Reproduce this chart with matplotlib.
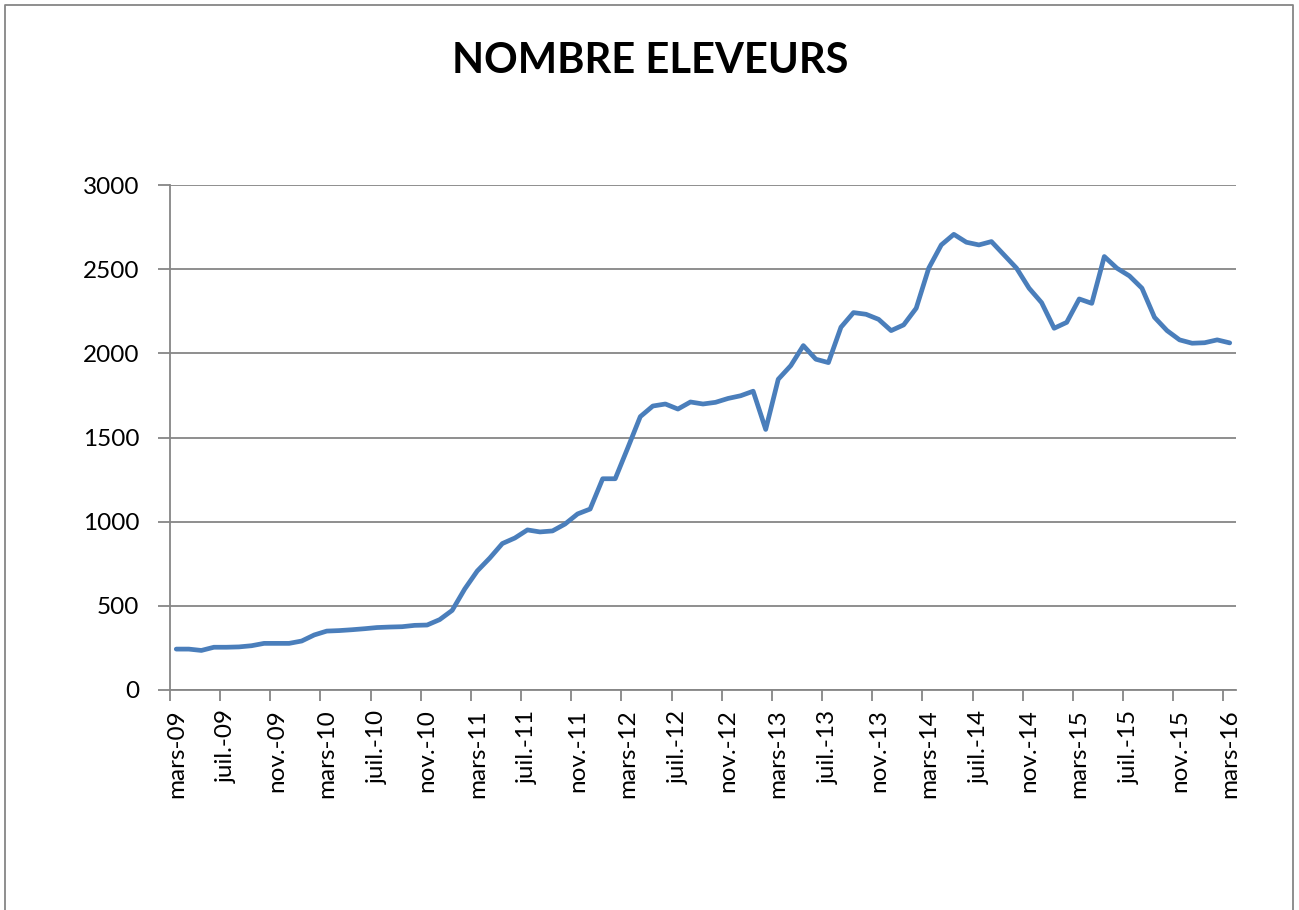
import matplotlib
matplotlib.use('Agg')
import matplotlib.pyplot as plt
import numpy as np

# monthly counts, mars-09 .. mars-16 (85 months)
months = ['janv.', 'févr.', 'mars', 'avr.', 'mai', 'juin',
          'juil.', 'août', 'sept.', 'oct.', 'nov.', 'déc.']
values = [
    243, 243, 235, 254, 254, 256, 263, 277, 277, 277,
    291, 327, 350, 353, 358, 364, 371, 374, 376, 384,
    386, 418, 473, 600, 707, 784, 870, 903, 951, 939,
    945, 986, 1046, 1075, 1255, 1255, 1438, 1624, 1687, 1699,
    1669, 1711, 1699, 1709, 1732, 1748, 1775, 1548, 1846, 1927,
    2046, 1965, 1945, 2155, 2242, 2232, 2202, 2135, 2169, 2268,
    2506, 2644, 2707, 2660, 2644, 2664, 2585, 2506, 2387, 2301,
    2149, 2184, 2323, 2297, 2575, 2506, 2460, 2387, 2214, 2135,
    2080, 2060, 2063, 2080, 2062,
]
start_year, start_month = 2009, 3

labels = []
for i in range(len(values)):
    m = (start_month - 1 + i) % 12
    y = start_year + (start_month - 1 + i) // 12
    labels.append(f"{months[m]}-{y % 100:02d}")

FONT = 'Lato'
GRID = '#868686'
LINE = '#4A7EBB'

fig = plt.figure(figsize=(12.99, 9.10), dpi=100)
ax = fig.add_axes([170 / 1299, 1 - 690 / 910, (1236 - 170) / 1299, (690 - 185) / 910])

x = np.arange(len(values))
ax.plot(x, values, color=LINE, lw=3.4, solid_joinstyle='round',
        solid_capstyle='round', zorder=3)

ax.set_xlim(-0.5, len(values) - 0.5)
ax.set_ylim(0, 3000)
ax.set_yticks(range(0, 3001, 500))
ax.yaxis.grid(True, color=GRID, lw=1.3)
ax.set_axisbelow(True)

# labels centred on categories, tick marks on category boundaries
ax.set_xticks(x[::4])
ax.set_xticklabels(labels[::4], rotation=90, fontsize=17.5, family=FONT)
ax.set_xticks(np.arange(-0.5, len(values) - 0.5, 4), minor=True)
ax.tick_params(axis='x', which='major', length=0, pad=14)
ax.tick_params(axis='x', which='minor', length=8, width=1.3, color=GRID)
ax.tick_params(axis='y', length=9, width=1.3, color=GRID, pad=13, labelsize=17.5)
for t in ax.get_yticklabels():
    t.set_family(FONT)

for s in ['top', 'right']:
    ax.spines[s].set_visible(False)
for s in ['left', 'bottom']:
    ax.spines[s].set_color(GRID)
    ax.spines[s].set_linewidth(1.3)

fig.text(650 / 1299, 1 - 61 / 910, 'NOMBRE ELEVEURS', ha='center', va='center',
         fontsize=30, fontweight='bold', family=FONT)

# chart area border
fig.add_artist(plt.Line2D([5 / 1299, 5 / 1299, 1293 / 1299, 1293 / 1299],
                          [0, 1 - 5 / 910, 1 - 5 / 910, 0],
                          transform=fig.transFigure, color=GRID, lw=1.3))

fig.savefig('out.png', dpi=100)
